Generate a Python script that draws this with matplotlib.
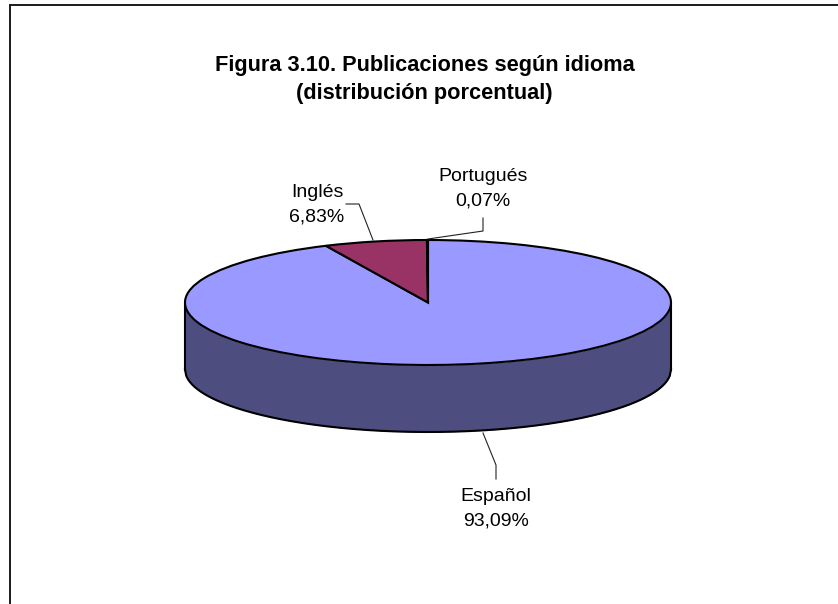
import numpy as np
import matplotlib
matplotlib.use("Agg")
import matplotlib.pyplot as plt

# data
labels = ["Español", "Inglés", "Portugués"]
values = [93.09, 6.83, 0.07]
value_labels = ["93,09%", "6,83%", "0,07%"]
colors = ["#9999FF", "#993366", "#FFFFCC"]
title = "Figura 3.10. Publicaciones según idioma\n(distribución porcentual)"

SIDE = "#4D4D80"
W, H = 838, 604
plt.rcParams["font.family"] = ["Liberation Sans", "DejaVu Sans"]

fig = plt.figure(figsize=(W / 100, H / 100), dpi=100, facecolor="white")

# pie axes: the unit circle is stretched to the ellipse of the top face
left, right, top, bottom = 185, 671, 240, 365
ax = fig.add_axes([left / W, 1 - bottom / H, (right - left) / W, (bottom - top) / H])
depth = 67 / ((bottom - top) / 2)

# side of the cylinder, under the top face
xs = np.linspace(-1, 1, 400)
arc = -np.sqrt(1 - xs ** 2)
ax.fill_between(xs, arc, arc - depth, color=SIDE, lw=0, clip_on=False, zorder=1)
ax.plot(xs, arc - depth, color="black", lw=1.5, clip_on=False, zorder=2)
ax.plot([-1, -1], [0, -depth], color="black", lw=1.5, clip_on=False, zorder=2)
ax.plot([1, 1], [0, -depth], color="black", lw=1.5, clip_on=False, zorder=2)

wedges, _ = ax.pie(values, colors=colors, startangle=90, counterclock=False,
                   radius=1, wedgeprops={"edgecolor": "black", "linewidth": 1.5})
for w in wedges:
    w.set_zorder(3)
    w.set_clip_on(False)
ax.set_aspect("auto")
ax.set_xlim(-1, 1)
ax.set_ylim(-1, 1)
ax.axis("off")

# overlay in pixel coordinates for frame, leaders and text
ov = fig.add_axes([0, 0, 1, 1], facecolor="none")
ov.set_xlim(0, W)
ov.set_ylim(H, 0)
ov.axis("off")

# only the top and left edges of the frame are visible
ov.plot([10, 10, W], [H, 5, 5], color="#1a1a1a", lw=1.4, solid_joinstyle="miter")

ov.text(424.5, 79.5, title, ha="center", va="center", fontsize=15.7,
        fontweight="bold", linespacing=1.41, color="black")

leaders = [
    ([483, 496, 496], [433, 465, 479]),
    ([373, 359, 346], [240, 204, 204]),
    ([428, 483, 483], [239, 231, 218]),
]
label_pos = [(496, 509), (317, 205), (483, 189)]
for name, val, (lx, ly), (px, py) in zip(labels, value_labels, leaders, label_pos):
    ov.plot(lx, ly, color="#222222", lw=0.8)
    ov.text(px, py, f"{name}\n{val}", ha="center", va="center", fontsize=14,
            linespacing=1.55, color="black")

fig.savefig("out.png", dpi=100)
